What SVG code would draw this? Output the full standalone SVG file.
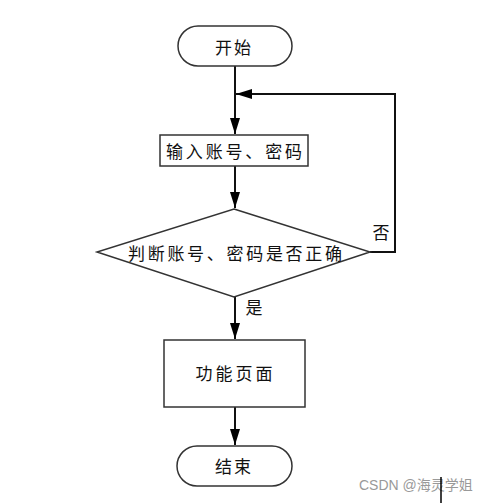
<svg xmlns="http://www.w3.org/2000/svg" width="499" height="503" viewBox="0 0 499 503">
<defs>
<marker id="arr" viewBox="0 0 16 10" refX="16" refY="5" markerWidth="16" markerHeight="10" markerUnits="userSpaceOnUse" orient="auto">
<path d="M0,0 L16,5 L0,10 z" fill="#000"/>
</marker>
<style>
.shape{fill:#fff;stroke:#333;stroke-width:1.5}
.lbl{font-family:"Noto Sans CJK SC","Liberation Sans",sans-serif;font-size:17px;fill:#111;text-anchor:middle;dominant-baseline:central}
.edge{fill:none;stroke:#111;stroke-width:2}
.wm{font-family:"Liberation Sans","Noto Sans CJK SC",sans-serif;font-size:14px;fill:#999}
</style>
</defs>
<rect width="499" height="503" fill="#fff"/>
<g id="connectors">
<line class="edge" x1="235" y1="66" x2="235" y2="134" marker-end="url(#arr)"/>
<line class="edge" x1="235" y1="166" x2="235" y2="208" marker-end="url(#arr)"/>
<line class="edge" x1="235" y1="297" x2="235" y2="339" marker-end="url(#arr)"/>
<line class="edge" x1="235" y1="407" x2="235" y2="445" marker-end="url(#arr)"/>
<polyline class="edge" points="370,252 395,252 395,94 236,94" marker-end="url(#arr)"/>
<text class="lbl" x="381" y="231">否</text>
<text class="lbl" x="254" y="306">是</text>
</g>
<g id="start">
<rect class="shape" x="178" y="26" width="114" height="40" rx="20"/>
<text class="lbl" x="233" y="46" textLength="36">开始</text>
</g>
<g id="input">
<rect class="shape" x="160" y="135" width="148" height="31"/>
<text class="lbl" x="234" y="150" textLength="136" lengthAdjust="spacing">输入账号、密码</text>
</g>
<g id="check">
<polygon class="shape" points="234,209 370,252 234,297 97,252"/>
<text class="lbl" x="235" y="252" textLength="214" lengthAdjust="spacing">判断账号、密码是否正确</text>
</g>
<g id="func">
<rect class="shape" x="164" y="340" width="141" height="67"/>
<text class="lbl" x="234" y="372" textLength="77" lengthAdjust="spacing">功能页面</text>
</g>
<g id="end">
<rect class="shape" x="177" y="446" width="115" height="40" rx="20"/>
<text class="lbl" x="233" y="465" textLength="36">结束</text>
</g>
<text class="wm" x="359" y="490">CSDN @海灵学姐</text>
<line x1="441" y1="477" x2="441" y2="503" stroke="#000" stroke-width="1.5"/>
</svg>
